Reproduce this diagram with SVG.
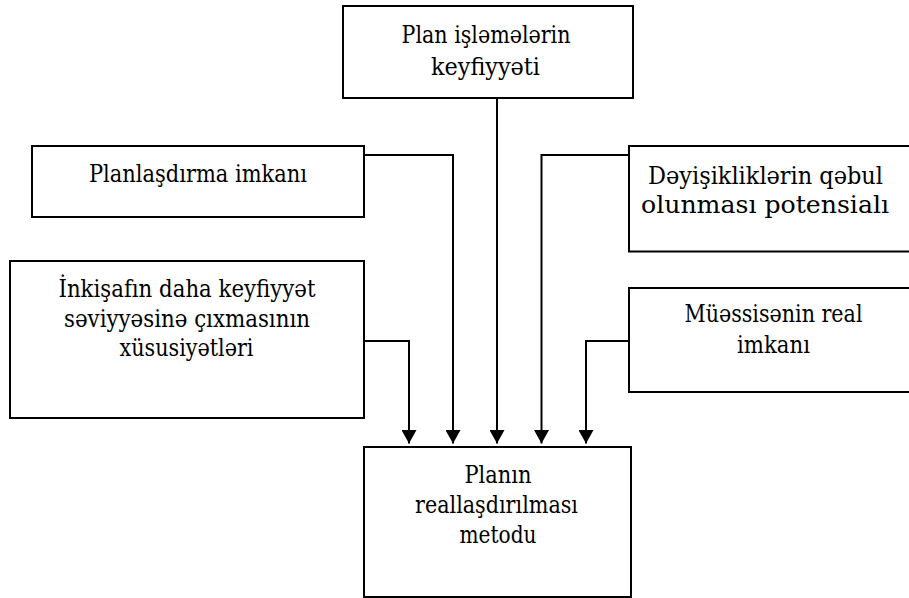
<svg xmlns="http://www.w3.org/2000/svg" width="909" height="598" viewBox="0 0 909 598">
<defs>
<marker id="ah" viewBox="0 0 13.5 15" refX="13.5" refY="7.5" markerWidth="13.5" markerHeight="15" markerUnits="userSpaceOnUse" orient="auto">
<path d="M0,0 L13.5,7.5 L0,15 z" fill="#000"/>
</marker>
</defs>
<rect width="909" height="598" fill="#fff"/>
<g id="connectors" fill="none" stroke="#000" stroke-width="2" marker-end="url(#ah)">
<path d="M364,155 H453 V443.5"/>
<path d="M364,341 H409 V443.5"/>
<path d="M497,98 V443.5"/>
<path d="M629,155 H541.5 V443.5"/>
<path d="M629,341 H586 V443.5"/>
</g>
<g id="node-top">
<rect x="343" y="6" width="290" height="92" fill="#fff" stroke="#000" stroke-width="2"/>
<text x="486" y="43" font-family="DejaVu Serif, Liberation Serif, serif" font-size="24" text-anchor="middle" textLength="169" lengthAdjust="spacingAndGlyphs">Plan işləmələrin</text>
<text x="485.5" y="75" font-family="DejaVu Serif, Liberation Serif, serif" font-size="24" text-anchor="middle" textLength="109" lengthAdjust="spacingAndGlyphs">keyfiyyəti</text>
</g>
<g id="node-planlasdirma">
<rect x="32" y="146" width="332" height="71" fill="#fff" stroke="#000" stroke-width="2"/>
<text x="198" y="181.5" font-family="DejaVu Serif, Liberation Serif, serif" font-size="24" text-anchor="middle" textLength="218" lengthAdjust="spacingAndGlyphs">Planlaşdırma imkanı</text>
</g>
<g id="node-inkisaf">
<rect x="10" y="261" width="354" height="157" fill="#fff" stroke="#000" stroke-width="2"/>
<text x="187" y="297" font-family="DejaVu Serif, Liberation Serif, serif" font-size="24" text-anchor="middle" textLength="257" lengthAdjust="spacingAndGlyphs">İnkişafın daha keyfiyyət</text>
<text x="187" y="326.5" font-family="DejaVu Serif, Liberation Serif, serif" font-size="24" text-anchor="middle" textLength="246" lengthAdjust="spacingAndGlyphs">səviyyəsinə çıxmasının</text>
<text x="186.5" y="355.5" font-family="DejaVu Serif, Liberation Serif, serif" font-size="24" text-anchor="middle" textLength="134" lengthAdjust="spacingAndGlyphs">xüsusiyətləri</text>
</g>
<g id="node-deyisiklik">
<rect x="629" y="146" width="295" height="105.5" fill="#fff" stroke="#000" stroke-width="2"/>
<text x="765.5" y="184" font-family="DejaVu Serif, Liberation Serif, serif" font-size="24" text-anchor="middle" textLength="235" lengthAdjust="spacingAndGlyphs">Dəyişikliklərin qəbul</text>
<text x="765" y="213" font-family="DejaVu Serif, Liberation Serif, serif" font-size="24" text-anchor="middle" textLength="248" lengthAdjust="spacingAndGlyphs">olunması potensialı</text>
</g>
<g id="node-muessise">
<rect x="629" y="288" width="295" height="104" fill="#fff" stroke="#000" stroke-width="2"/>
<text x="773.5" y="322" font-family="DejaVu Serif, Liberation Serif, serif" font-size="24" text-anchor="middle" textLength="178" lengthAdjust="spacingAndGlyphs">Müəssisənin real</text>
<text x="773.5" y="353" font-family="DejaVu Serif, Liberation Serif, serif" font-size="24" text-anchor="middle" textLength="73" lengthAdjust="spacingAndGlyphs">imkanı</text>
</g>
<g id="node-bottom">
<rect x="364" y="447" width="267" height="150" fill="#fff" stroke="#000" stroke-width="2"/>
<text x="498" y="482.5" font-family="DejaVu Serif, Liberation Serif, serif" font-size="24" text-anchor="middle" textLength="67" lengthAdjust="spacingAndGlyphs">Planın</text>
<text x="496.5" y="513" font-family="DejaVu Serif, Liberation Serif, serif" font-size="24" text-anchor="middle" textLength="163" lengthAdjust="spacingAndGlyphs">reallaşdırılması</text>
<text x="498" y="543" font-family="DejaVu Serif, Liberation Serif, serif" font-size="24" text-anchor="middle" textLength="77" lengthAdjust="spacingAndGlyphs">metodu</text>
</g>
</svg>
